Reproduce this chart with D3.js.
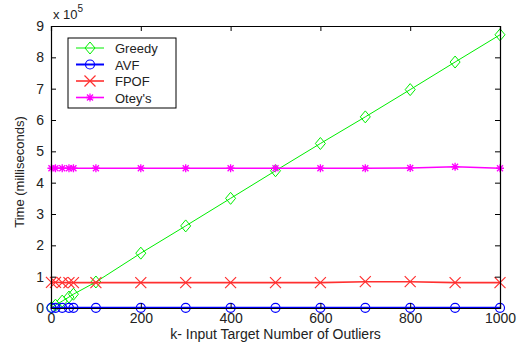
<!DOCTYPE html>
<html><head><meta charset="utf-8">
<script src="https://cdn.jsdelivr.net/npm/d3@7"></script>
<style>body{margin:0;background:#fff}svg{display:block}text{font-family:"Liberation Sans",Arial,sans-serif}</style>
</head><body><svg id="c" width="526" height="352"></svg>
<script>
const kValues = [1, 10, 25, 40, 50, 100, 200, 300, 400, 500, 600, 700, 800, 900, 1000];
const greedy = [0.01, 0.09, 0.22, 0.35, 0.44, 0.83, 1.75, 2.62, 3.5, 4.38, 5.25, 6.1, 6.97, 7.85, 8.72];
const avf =    [0.005, 0.005, 0.005, 0.005, 0.005, 0.005, 0.005, 0.005, 0.005, 0.005, 0.005, 0.005, 0.005, 0.005, 0.005];
const fpof =   [0.82, 0.82, 0.81, 0.81, 0.81, 0.81, 0.81, 0.81, 0.81, 0.81, 0.81, 0.84, 0.84, 0.81, 0.81];
const oteys =  [4.46, 4.46, 4.46, 4.46, 4.46, 4.46, 4.46, 4.46, 4.46, 4.46, 4.46, 4.46, 4.47, 4.51, 4.46];
const seriesNames = ["Greedy", "AVF", "FPOF", "Otey's"];
const xTicks = [0, 200, 400, 600, 800, 1000];
const yTicks = [0, 1, 2, 3, 4, 5, 6, 7, 8, 9];

const series = [
  {name: seriesNames[0], values: greedy, color: "#00ee00", marker: "diamond", w: 1},
  {name: seriesNames[1], values: avf, color: "#0000ff", marker: "circle", w: 2},
  {name: seriesNames[2], values: fpof, color: "#ff3030", marker: "x", w: 1.6},
  {name: seriesNames[3], values: oteys, color: "#ff00ff", marker: "star", w: 1.6}
];

const svg = d3.select("#c");
const L = 51, R = 500, T = 26, B = 308;
const x = d3.scaleLinear().domain([0, 1000]).range([L, R]);
const y = d3.scaleLinear().domain([0, 9]).range([B, T]);

function drawMarker(g, type, cx, cy, color) {
  if (type === "diamond") {
    g.append("path").attr("d", `M${cx},${cy-6}L${cx+5},${cy}L${cx},${cy+6}L${cx-5},${cy}Z`)
      .attr("fill", "none").attr("stroke", color).attr("stroke-width", 1);
  } else if (type === "circle") {
    g.append("circle").attr("cx", cx).attr("cy", cy).attr("r", 4.5)
      .attr("fill", "none").attr("stroke", color).attr("stroke-width", 1.2);
  } else if (type === "x") {
    const s = 5.5;
    g.append("path").attr("d", `M${cx-s},${cy-s}L${cx+s},${cy+s}M${cx-s},${cy+s}L${cx+s},${cy-s}`)
      .attr("stroke", color).attr("stroke-width", 1.2);
  } else if (type === "star") {
    const s = 4;
    g.append("path").attr("d", `M${cx-s},${cy}L${cx+s},${cy}M${cx},${cy-s}L${cx},${cy+s}M${cx-3},${cy-3}L${cx+3},${cy+3}M${cx-3},${cy+3}L${cx+3},${cy-3}`)
      .attr("stroke", color).attr("stroke-width", 1.3);
  }
}

const plot = svg.append("g");
const line = d3.line().x((d, i) => x(kValues[i])).y(d => y(d));
series.forEach(s => {
  plot.append("path").datum(s.values).attr("d", line)
    .attr("fill", "none").attr("stroke", s.color).attr("stroke-width", s.w);
  s.values.forEach((v, i) => drawMarker(plot, s.marker, x(kValues[i]), y(v), s.color));
});

// axes
const ax = svg.append("g");
const xAxis = d3.axisBottom(x).tickValues(xTicks).tickSize(-5).tickPadding(5).tickFormat(d3.format("d"));
const yAxis = d3.axisLeft(y).tickValues(yTicks).tickSize(-5).tickPadding(7);
ax.append("g").attr("transform", `translate(0,${B})`).call(xAxis);
ax.append("g").attr("transform", `translate(${L},0)`).call(yAxis);
ax.append("g").attr("transform", `translate(0,${T})`).call(d3.axisTop(x).tickValues(xTicks).tickSize(-5).tickFormat(""));
ax.append("g").attr("transform", `translate(${R},0)`).call(d3.axisRight(y).tickValues(yTicks).tickSize(-5).tickFormat(""));
ax.selectAll(".domain").attr("stroke", "#000").attr("stroke-width", 1.2);
ax.selectAll(".tick line").attr("stroke", "#000");
ax.selectAll("text").attr("font-size", 14).attr("fill", "#222").style("font-family", '"Liberation Sans", Arial, sans-serif');

// exponent label
const ex = svg.append("text").attr("x", 53).attr("y", 19).attr("font-size", 13).attr("fill", "#222");
ex.append("tspan").text("x 10");
ex.append("tspan").attr("dy", -7).attr("font-size", 10).text("5");

// axis labels
svg.append("text").attr("x", (L + R) / 2).attr("y", 339).attr("text-anchor", "middle")
  .attr("font-size", 14).attr("fill", "#222").text("k- Input Target Number of Outliers");
svg.append("text").attr("transform", `translate(24,${(T + B) / 2 + 5}) rotate(-90)`).attr("text-anchor", "middle")
  .attr("font-size", 13).attr("fill", "#222").text("Time (milliseconds)");

// legend
const lg = svg.append("g");
lg.append("rect").attr("x", 68).attr("y", 38).attr("width", 108).attr("height", 70)
  .attr("fill", "#fff").attr("stroke", "#000").attr("stroke-width", 1);
series.forEach((s, i) => {
  const yy = 48 + i * 16.5;
  lg.append("line").attr("x1", 76).attr("x2", 104).attr("y1", yy).attr("y2", yy)
    .attr("stroke", s.color).attr("stroke-width", s.w);
  drawMarker(lg, s.marker, 90, yy, s.color);
  lg.append("text").attr("x", 115).attr("y", yy + 5).attr("font-size", 13).attr("fill", "#222").text(s.name);
});
</script></body></html>
